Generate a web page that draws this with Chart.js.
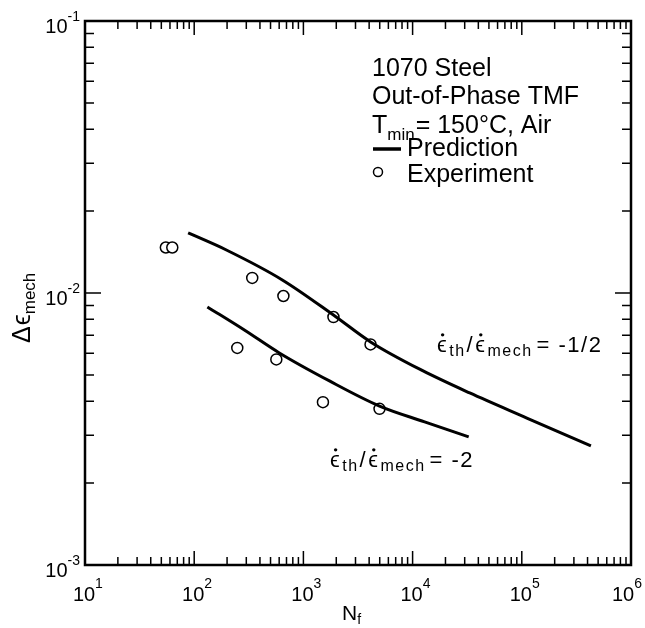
<!DOCTYPE html>
<html>
<head>
<meta charset="utf-8">
<script src="https://cdn.jsdelivr.net/npm/chart.js@4.4.1/dist/chart.umd.min.js"></script>
<style>
  body { margin: 0; background: #fff; }
  #wrap { width: 645px; height: 628px; }
</style>
</head>
<body>
<div id="wrap"><canvas id="grafico" width="645" height="628"></canvas></div>
<script>
// cycles to failure (N_f) and mechanical strain range
const prediccionAltaN = [88, 197, 641, 1884, 4120, 12360, 33340, 111200, 429500]; // -1/2
const prediccionAltaE = [0.01663, 0.01439, 0.01117, 0.00830, 0.00661, 0.00518, 0.00429, 0.00347, 0.00274];
const prediccionBajaN = [132, 288, 602, 1732, 4980, 12880, 32640]; // -2
const prediccionBajaE = [0.00889, 0.00731, 0.00602, 0.00475, 0.00384, 0.00336, 0.00296];
const experimentoN = [55, 63, 340, 656, 1884, 4120, 248, 565, 1510, 4980];
const experimentoE = [0.0147, 0.0147, 0.01136, 0.00975, 0.00816, 0.00647, 0.00628, 0.00570, 0.00397, 0.00375];

// decades and their tick labels
const decadasX = [1e1, 1e2, 1e3, 1e4, 1e5, 1e6];
const exponentesX = ['1', '2', '3', '4', '5', '6'];
const decadasY = [1e-3, 1e-2, 1e-1];
const exponentesY = ['-3', '-2', '-1'];

const fuente = '"Liberation Sans", Arial, sans-serif';

function puntos(xs, ys) {
  return xs.map((v, i) => ({ x: v, y: ys[i] }));
}

// draws text pieces one after the other (subscripts, dotted epsilon)
function textoRico(ctx, x, y, partes) {
  ctx.textAlign = 'left';
  ctx.textBaseline = 'alphabetic';
  for (const p of partes) {
    ctx.font = p.size + 'px ' + fuente;
    const w = ctx.measureText(p.t).width;
    ctx.fillText(p.t, x, y + (p.dy || 0));
    if (p.punto) {
      ctx.beginPath();
      ctx.arc(x + w * 0.5, y - p.size * 0.78, 1.7, 0, Math.PI * 2);
      ctx.fill();
    }
    x += w + (p.gap || 0);
  }
  return x;
}

const marcoYTextos = {
  id: 'marcoYTextos',
  afterDraw(chart) {
    const ctx = chart.ctx;
    const a = chart.chartArea;
    const sx = chart.scales.x;
    const sy = chart.scales.y;
    ctx.save();
    ctx.strokeStyle = '#000';
    ctx.fillStyle = '#000';

    // frame
    ctx.lineWidth = 2.5;
    ctx.strokeRect(a.left, a.top, a.right - a.left, a.bottom - a.top);

    // inward ticks on all four sides
    ctx.lineWidth = 1.5;
    ctx.beginPath();
    decadasX.forEach(d => {
      for (let m = 1; m <= 9; m++) {
        const v = d * m;
        if (v > 1e6 || (m === 1 && d === 1e1)) continue;
        const px = sx.getPixelForValue(v);
        const len = m === 1 ? 14 : 8;
        ctx.moveTo(px, a.bottom); ctx.lineTo(px, a.bottom - len);
        ctx.moveTo(px, a.top); ctx.lineTo(px, a.top + len);
      }
    });
    decadasY.forEach(d => {
      for (let m = 1; m <= 9; m++) {
        const v = d * m;
        if (v > 0.1 + 1e-9 || (m === 1 && d === 1e-3)) continue;
        const py = sy.getPixelForValue(v);
        const len = m === 1 ? 16 : 9;
        ctx.moveTo(a.left, py); ctx.lineTo(a.left + len, py);
        ctx.moveTo(a.right, py); ctx.lineTo(a.right - len, py);
      }
    });
    ctx.stroke();

    // y tick labels 10^n
    decadasY.forEach((d, i) => {
      const py = sy.getPixelForValue(d);
      ctx.font = '14px ' + fuente;
      const ws = ctx.measureText(exponentesY[i]).width;
      const xs = a.left - 5 - ws;
      ctx.textAlign = 'left';
      ctx.textBaseline = 'middle';
      ctx.fillText(exponentesY[i], xs, py - 4);
      ctx.font = '20px ' + fuente;
      ctx.textAlign = 'right';
      ctx.fillText('10', xs, py + 6);
    });

    // x tick labels 10^n (last one pulled left to stay on the page)
    decadasX.forEach((d, i) => {
      const px = sx.getPixelForValue(d);
      ctx.font = '20px ' + fuente;
      const w = ctx.measureText('10').width;
      ctx.font = '14px ' + fuente;
      const ws = ctx.measureText(exponentesX[i]).width;
      let x0 = px - 1 - w / 2;
      if (x0 + w + ws > chart.width - 3) x0 = chart.width - 3 - w - ws;
      ctx.textAlign = 'left';
      ctx.textBaseline = 'alphabetic';
      ctx.font = '20px ' + fuente;
      ctx.fillText('10', x0, 601);
      ctx.font = '14px ' + fuente;
      ctx.fillText(exponentesX[i], x0 + w, 588);
    });

    // axis titles
    textoRico(ctx, 342, 620, [
      { t: 'N', size: 21 },
      { t: 'f', size: 14, dy: 4 }
    ]);
    ctx.save();
    ctx.translate(30, 343);
    ctx.rotate(-Math.PI / 2);
    textoRico(ctx, 0, 0, [
      { t: 'Δ', size: 25, gap: 1 },
      { t: 'ϵ', size: 25 },
      { t: 'mech', size: 17, dy: 5 }
    ]);
    ctx.restore();

    // description block
    ctx.font = '25px ' + fuente;
    ctx.textAlign = 'left';
    ctx.textBaseline = 'alphabetic';
    ctx.fillText('1070 Steel', 372, 76);
    ctx.fillText('Out-of-Phase TMF', 372, 104);
    textoRico(ctx, 372, 133, [
      { t: 'T', size: 25 },
      { t: 'min', size: 17, dy: 7, gap: 1 },
      { t: '= 150°C, Air', size: 25 }
    ]);
    ctx.lineWidth = 3.5;
    ctx.beginPath();
    ctx.moveTo(373, 149); ctx.lineTo(401, 149);
    ctx.stroke();
    ctx.font = '25px ' + fuente;
    ctx.fillText('Prediction', 407, 156);
    ctx.lineWidth = 1.5;
    ctx.beginPath();
    ctx.arc(378, 172, 4.5, 0, Math.PI * 2);
    ctx.stroke();
    ctx.fillText('Experiment', 407, 182);

    // curve labels
    ctx.letterSpacing = '1.5px';
    const etiqueta = (x, y, valor) => textoRico(ctx, x, y, [
      { t: 'ϵ', size: 22, punto: true, gap: 1 },
      { t: 'th', size: 16, dy: 4, gap: 1 },
      { t: '/', size: 22, gap: 1 },
      { t: 'ϵ', size: 22, punto: true, gap: 1 },
      { t: 'mech', size: 16, dy: 4, gap: 4 },
      { t: '= ' + valor, size: 22 }
    ]);
    etiqueta(437, 352, '-1/2');
    etiqueta(330, 467, '-2');
    ctx.letterSpacing = '0px';

    ctx.restore();
  }
};

new Chart(document.getElementById('grafico'), {
  type: 'scatter',
  data: {
    datasets: [{
      label: 'Prediction -1/2',
      data: puntos(prediccionAltaN, prediccionAltaE),
      showLine: true,
      borderColor: '#000',
      borderWidth: 3,
      pointRadius: 0,
      cubicInterpolationMode: 'monotone'
    }, {
      label: 'Prediction -2',
      data: puntos(prediccionBajaN, prediccionBajaE),
      showLine: true,
      borderColor: '#000',
      borderWidth: 3,
      pointRadius: 0,
      cubicInterpolationMode: 'monotone'
    }, {
      label: 'Experiment',
      data: puntos(experimentoN, experimentoE),
      showLine: false,
      borderColor: '#000',
      backgroundColor: '#fff',
      borderWidth: 1.5,
      pointRadius: 5.5
    }]
  },
  options: {
    responsive: false,
    animation: false,
    devicePixelRatio: 1,
    layout: { padding: { left: 85, right: 14, top: 21, bottom: 63 } },
    plugins: { legend: { display: false }, tooltip: { enabled: false } },
    scales: {
      x: { type: 'logarithmic', min: 10, max: 1e6, display: false },
      y: { type: 'logarithmic', min: 1e-3, max: 1e-1, display: false }
    }
  },
  plugins: [marcoYTextos]
});
</script>
</body>
</html>
